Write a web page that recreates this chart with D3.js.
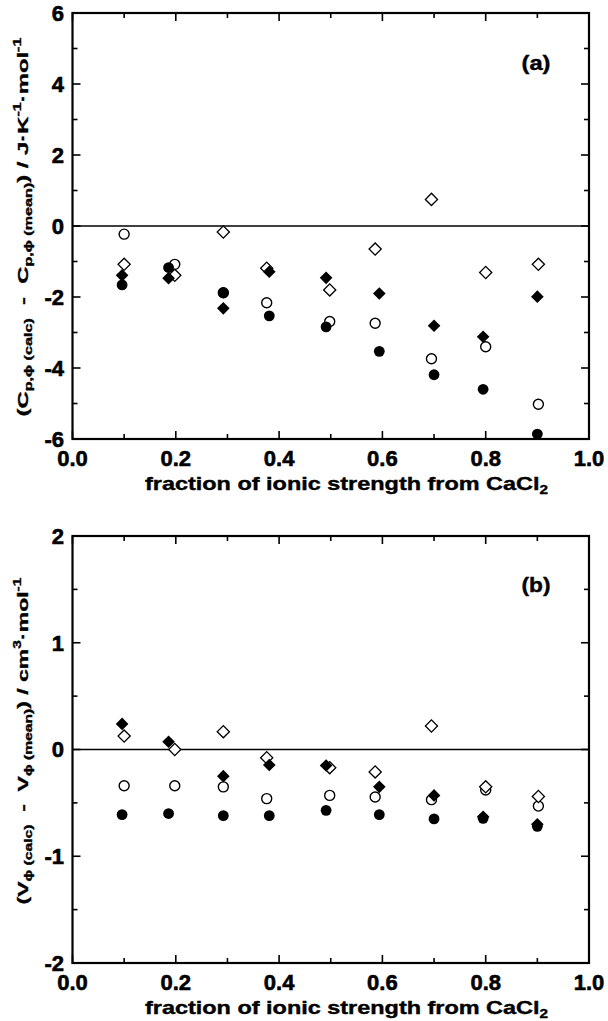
<!DOCTYPE html>
<html><head><meta charset="utf-8">
<script src="https://cdn.jsdelivr.net/npm/d3@7"></script>
<style>body{margin:0;background:#fff} svg{display:block}</style>
</head><body><svg id="c" width="608" height="1021"></svg>
<script>
// x positions (filled markers slightly offset from open markers in the original)
const xFilled = [0.096, 0.186, 0.292, 0.381, 0.491, 0.594, 0.700, 0.795, 0.900];
const xOpen   = [0.100, 0.198, 0.292, 0.376, 0.498, 0.586, 0.695, 0.800, 0.902];

// Panel (a): Cp,phi(calc) - Cp,phi(mean)
const aFilledCircle  = [-1.66, -1.17, -1.88, -2.53, -2.84, -3.53, -4.19, -4.60, -5.86];
const aOpenCircle    = [-0.23, -1.08, -1.88, -2.16, -2.69, -2.74, -3.74, -3.40, -5.02];
const aFilledDiamond = [-1.39, -1.47, -2.32, -1.29, -1.46, -1.90, -2.81, -3.12, -1.99];
const aOpenDiamond   = [-1.08, -1.39, -0.17, -1.19, -1.80, -0.65, 0.75, -1.31, -1.08];

// Panel (b): V,phi(calc) - V,phi(mean)
const bFilledCircle  = [-0.61, -0.60, -0.62, -0.62, -0.57, -0.61, -0.65, -0.645, -0.72];
const bOpenCircle    = [-0.34, -0.34, -0.35, -0.46, -0.43, -0.445, -0.47, -0.38, -0.53];
const bFilledDiamond = [0.24, 0.073, -0.25, -0.145, -0.15, -0.35, -0.43, -0.63, -0.70];
const bOpenDiamond   = [0.126, 0.0, 0.167, -0.077, -0.17, -0.21, 0.22, -0.35, -0.44];

const xTicks = [0, 0.2, 0.4, 0.6, 0.8, 1.0];
const xTickLabels = ["0.0", "0.2", "0.4", "0.6", "0.8", "1.0"];
const xMinorTicks = [0.1, 0.3, 0.5, 0.7, 0.9];
const aYTicks = [-6, -4, -2, 0, 2, 4, 6];
const aYTickLabels = ["-6", "-4", "-2", "0", "2", "4", "6"];
const aYMinorTicks = [-5, -3, -1, 1, 3, 5];
const bYTicks = [-2, -1, 0, 1, 2];
const bYTickLabels = ["-2", "-1", "0", "1", "2"];
const bYMinorTicks = [-1.5, -0.5, 0.5, 1.5];
const xTitle = "fraction of ionic strength from CaCl";

const svg = d3.select("#c");
const TICKFONT = "'Liberation Sans Narrow', 'Arial Narrow', 'Liberation Sans', Arial, sans-serif";
const FONT = "'Liberation Sans', Arial, Helvetica, sans-serif";

function panel(cfg) {
  const x = d3.scaleLinear().domain([0, 1]).range([72.5, 589]);
  const y = d3.scaleLinear().domain(cfg.yDomain).range([cfg.bottom, cfg.top]);
  const g = svg.append("g");
  const L = x.range()[0], R = x.range()[1], T = cfg.top, B = cfg.bottom;

  // zero line
  g.append("line").attr("x1", L).attr("x2", R).attr("y1", y(0)).attr("y2", y(0))
    .attr("stroke", "#000").attr("stroke-width", 1.4);

  // ticks (inward on all four sides)
  const tk = g.append("g").attr("stroke", "#000").attr("stroke-width", 1.6);
  const xt = xTicks.map(v => ({v, len: 8})).concat(xMinorTicks.map(v => ({v, len: 5})));
  xt.forEach(t => {
    tk.append("line").attr("x1", x(t.v)).attr("x2", x(t.v)).attr("y1", B).attr("y2", B - t.len);
    tk.append("line").attr("x1", x(t.v)).attr("x2", x(t.v)).attr("y1", T).attr("y2", T + t.len);
  });
  const yt = cfg.yTicks.map(v => ({v, len: 8})).concat(cfg.yMinor.map(v => ({v, len: 5})));
  yt.forEach(t => {
    tk.append("line").attr("y1", y(t.v)).attr("y2", y(t.v)).attr("x1", L).attr("x2", L + t.len);
    tk.append("line").attr("y1", y(t.v)).attr("y2", y(t.v)).attr("x1", R).attr("x2", R - t.len);
  });

  // frame
  g.append("rect").attr("x", L).attr("y", T).attr("width", R - L).attr("height", B - T)
    .attr("fill", "none").attr("stroke", "#000").attr("stroke-width", 2.2);

  // tick labels
  g.selectAll(".xl").data(xTicks).enter().append("text")
    .attr("x", d => x(d)).attr("y", B + 27).attr("text-anchor", "middle")
    .attr("font-family", TICKFONT).attr("font-weight", "bold").attr("font-size", 22)
    .attr("stroke", "#000").attr("stroke-width", 0.6)
    .text((d, i) => xTickLabels[i]);
  g.selectAll(".yl").data(cfg.yTicks).enter().append("text")
    .attr("x", 64).attr("y", d => y(d)).attr("dy", "0.36em").attr("text-anchor", "end")
    .attr("font-family", TICKFONT).attr("font-weight", "bold").attr("font-size", 22)
    .attr("stroke", "#000").attr("stroke-width", 0.6)
    .text((d, i) => cfg.yTickLabels[i]);

  // x title
  const xtx = g.append("text").attr("x", 346.5).attr("y", B + 51).attr("text-anchor", "middle")
    .attr("font-family", FONT).attr("font-weight", "bold").attr("font-size", 18.5)
    .attr("stroke", "#000").attr("stroke-width", 0.4)
    .attr("textLength", 403).attr("lengthAdjust", "spacingAndGlyphs");
  xtx.append("tspan").text(xTitle);
  xtx.append("tspan").attr("font-size", 12).attr("dy", 4).text("2");

  // y title
  const yt2 = g.append("text").attr("transform", `translate(28,${cfg.yTitleCenter}) rotate(-90)`)
    .attr("text-anchor", "middle").attr("font-family", FONT).attr("font-weight", "bold")
    .attr("stroke", "#000").attr("stroke-width", 0.35)
    .attr("font-size", 15.5).attr("textLength", cfg.yTitleLen).attr("lengthAdjust", "spacingAndGlyphs")
    .style("white-space", "pre");
  cfg.yTitle.forEach(p => {
    const ts = yt2.append("tspan").text(p.t);
    if (p.k === "sub") ts.attr("font-size", 10.5).attr("dy", 4);
    else if (p.k === "sup") ts.attr("font-size", 10.5).attr("dy", -7);
    else if (p.k === "back") ts.attr("dy", -4);
    else if (p.k === "back2") ts.attr("dy", 7);
  });

  // panel label
  g.append("text").attr("x", 536).attr("y", T + cfg.labelDy).attr("text-anchor", "middle")
    .attr("font-family", FONT).attr("font-weight", "bold").attr("font-size", 20)
    .attr("stroke", "#000").attr("stroke-width", 0.4)
    .attr("textLength", 29).attr("lengthAdjust", "spacingAndGlyphs").text(cfg.label);

  // markers
  const sq = d3.symbol().type(d3.symbolSquare).size(74);
  const m = g.append("g");
  cfg.openCircle.forEach((v, i) => m.append("circle").attr("cx", x(xOpen[i])).attr("cy", y(v))
    .attr("r", 5).attr("fill", "#fff").attr("stroke", "#000").attr("stroke-width", 1.4));
  cfg.openDiamond.forEach((v, i) => m.append("path").attr("d", sq())
    .attr("transform", `translate(${x(xOpen[i])},${y(v)}) rotate(45)`)
    .attr("fill", "#fff").attr("stroke", "#000").attr("stroke-width", 1.3));
  cfg.filledCircle.forEach((v, i) => m.append("circle").attr("cx", x(xFilled[i])).attr("cy", y(v))
    .attr("r", 5.4).attr("fill", "#000"));
  cfg.filledDiamond.forEach((v, i) => m.append("path").attr("d", d3.symbol().type(d3.symbolSquare).size(80)())
    .attr("transform", `translate(${x(xFilled[i])},${y(v)}) rotate(45)`).attr("fill", "#000"));
}

panel({
  yDomain: [-6, 6], top: 13, bottom: 439,
  yTicks: aYTicks, yTickLabels: aYTickLabels, yMinor: aYMinorTicks,
  filledCircle: aFilledCircle, openCircle: aOpenCircle,
  filledDiamond: aFilledDiamond, openDiamond: aOpenDiamond,
  label: "(a)", labelDy: 57,
  yTitleCenter: 227, yTitleLen: 379,
  yTitle: [
    {t: "(C"}, {t: "p,ϕ (calc)", k: "sub"}, {t: "  -  C", k: "back"},
    {t: "p,ϕ (mean)", k: "sub"}, {t: ") / J·K", k: "back"}, {t: "-1", k: "sup"},
    {t: "·mol", k: "back2"}, {t: "-1", k: "sup"}
  ]
});

panel({
  yDomain: [-2, 2], top: 536, bottom: 963,
  yTicks: bYTicks, yTickLabels: bYTickLabels, yMinor: bYMinorTicks,
  filledCircle: bFilledCircle, openCircle: bOpenCircle,
  filledDiamond: bFilledDiamond, openDiamond: bOpenDiamond,
  label: "(b)", labelDy: 56,
  yTitleCenter: 741, yTitleLen: 327,
  yTitle: [
    {t: "(V"}, {t: "ϕ (calc)", k: "sub"}, {t: "  -  V", k: "back"},
    {t: "ϕ (mean)", k: "sub"}, {t: ") / cm", k: "back"}, {t: "3", k: "sup"},
    {t: "·mol", k: "back2"}, {t: "-1", k: "sup"}
  ]
});
</script></body></html>
